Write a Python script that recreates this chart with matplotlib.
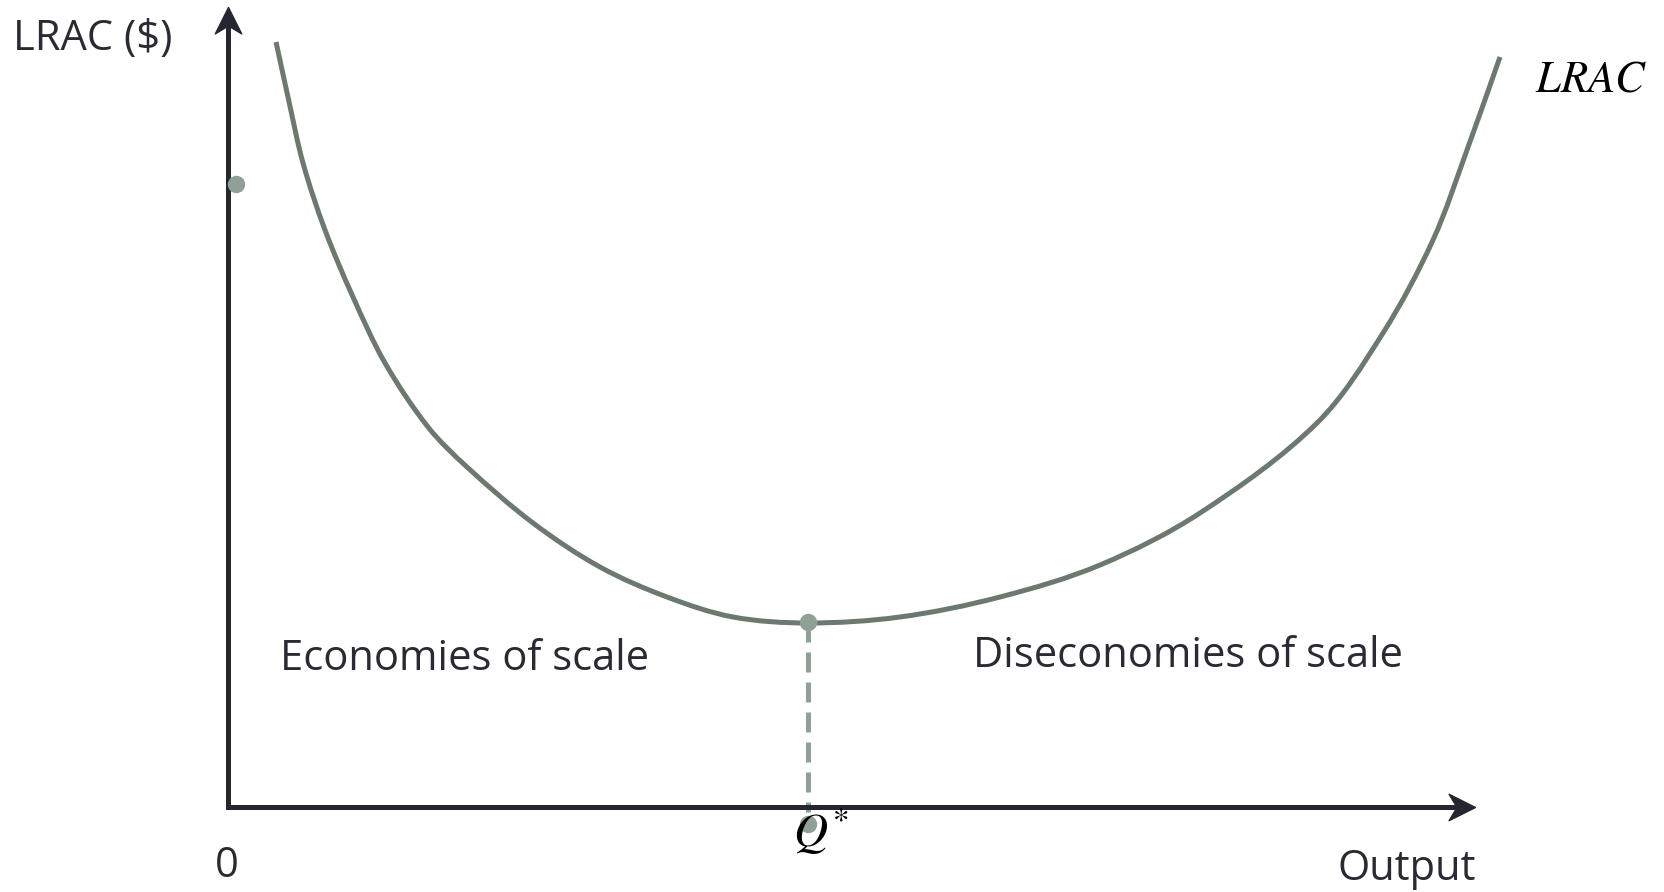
import numpy as np
import matplotlib
matplotlib.use("Agg")
import matplotlib.pyplot as plt
from matplotlib.path import Path
from matplotlib.patches import PathPatch

# LRAC curve (output, cost)
output_q = [0.48, 0.60, 0.75, 0.97, 1.25, 1.57, 2.00, 2.39, 3.05, 3.72,
            4.39, 5.05, 5.80, 6.72, 7.72, 8.72, 9.72, 10.89, 11.55,
            12.05, 12.39, 12.72]
lrac = [7.65, 7.10, 6.44, 5.77, 5.10, 4.44, 3.80, 3.40, 2.84, 2.40,
        2.10, 1.90, 1.84, 1.90, 2.10, 2.42, 2.94, 3.84, 4.74,
        5.67, 6.57, 7.50]

q_star = 5.80
lrac_min = 1.85
axis_dot = (0.08, 6.23)

x_max = 12.47
y_max = 8.0

TEXT = "#2a2a33"
AXIS = "#262630"
CURVE = "#6b796f"
DOT = "#8fa096"


def smooth_path(xs, ys):
    """Bezier path through the points (chord-length Catmull-Rom)."""
    pts = np.column_stack([xs, ys])
    n = len(pts)
    t = np.concatenate([[0], np.cumsum(np.hypot(*np.diff(pts, axis=0).T))])
    tang = np.zeros_like(pts)
    tang[0] = (pts[1] - pts[0]) / (t[1] - t[0])
    tang[-1] = (pts[-1] - pts[-2]) / (t[-1] - t[-2])
    for i in range(1, n - 1):
        tang[i] = (pts[i + 1] - pts[i - 1]) / (t[i + 1] - t[i - 1])
    verts = [pts[0]]
    codes = [Path.MOVETO]
    for i in range(n - 1):
        h = t[i + 1] - t[i]
        verts += [pts[i] + tang[i] * h / 3, pts[i + 1] - tang[i + 1] * h / 3, pts[i + 1]]
        codes += [Path.CURVE4] * 3
    return Path(verts, codes)


plt.rcParams["font.family"] = ["Open Sans", "DejaVu Sans"]
plt.rcParams["mathtext.fontset"] = "stix"

fig = plt.figure(figsize=(16.65, 8.92), dpi=100)
ax = fig.add_axes([0, 0, 1, 1])
ax.set_xlim(-2.28, 14.37)
ax.set_ylim(-0.85, 8.07)
ax.axis("off")

# axes with arrowheads
ax.plot([0, 0], [0, y_max - 0.1], color=AXIS, lw=3.6, solid_capstyle="projecting", zorder=3)
ax.plot([0, x_max - 0.1], [0, 0], color=AXIS, lw=3.6, solid_capstyle="projecting", zorder=3)
up = [(0, 0), (-0.5, -1), (0, -0.7), (0.5, -1), (0, 0)]
right = [(0, 0), (-1, 0.5), (-0.7, 0), (-1, -0.5), (0, 0)]
ax.plot([0], [y_max], marker=up, ms=38, color=AXIS, mec=AXIS, zorder=4)
ax.plot([x_max], [0], marker=right, ms=38, color=AXIS, mec=AXIS, zorder=4)

# curve
ax.add_patch(PathPatch(smooth_path(output_q, lrac), fill=False, edgecolor=CURVE,
                       lw=3.6, capstyle="butt", zorder=2))

# Q* marker and dashed drop line
ax.plot([q_star, q_star], [lrac_min, -0.05], color=DOT, lw=3.6,
        dashes=(4, 2), zorder=2)
ax.plot([q_star], [lrac_min], "o", ms=11.5, color=DOT, zorder=3)
ax.plot([q_star], [-0.17], "o", ms=11.5, color=DOT, zorder=1)
ax.plot([axis_dot[0]], [axis_dot[1]], "o", ms=11.5, color=DOT, zorder=5)

# labels
ax.text(-2.15, 7.57, "LRAC ($)", fontsize=30, color=TEXT, va="baseline", ha="left")
ax.text(0.52, 1.37, "Economies of scale", fontsize=30, color=TEXT, va="baseline", ha="left")
ax.text(7.45, 1.40, "Diseconomies of scale", fontsize=30, color=TEXT, va="baseline", ha="left")
ax.text(-0.01, -0.70, "0", fontsize=30, color=TEXT, va="baseline", ha="center")
ax.text(11.09, -0.73, "Output", fontsize=30, color=TEXT, va="baseline", ha="left")
ax.text(13.07, 7.15, r"$LRAC$", fontsize=32, color="black", va="baseline", ha="left")
ax.text(5.65, -0.40, r"$Q^{*}$", fontsize=34, color="black", va="baseline", ha="left", zorder=6)

fig.savefig("out.png", dpi=100, facecolor="white")
